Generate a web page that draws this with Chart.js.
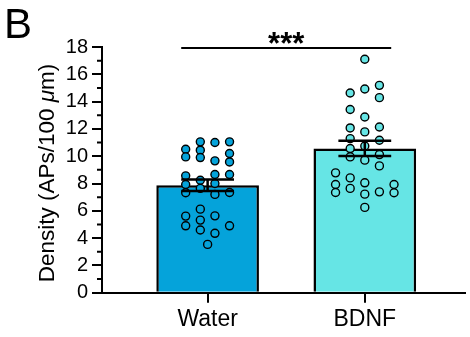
<!DOCTYPE html>
<html>
<head>
<meta charset="utf-8">
<script src="https://cdn.jsdelivr.net/npm/chart.js@4"></script>
<style>
  body { margin: 0; background: #fff; }
  canvas { display: block; }
</style>
</head>
<body>
<canvas id="densityChart" width="470" height="337"></canvas>
<script>
// data
const categories = ['Water', 'BDNF'];
const meanValues = [7.87, 10.57];
const semValues = [0.42, 0.56];

// dots per column, left to right
const waterColumns = [
  [10.51, 9.95, 8.56, 7.93, 7.32, 5.61, 4.90],
  [11.05, 10.44, 9.90, 8.24, 7.64, 6.12, 5.32, 4.59],
  [11.00, 9.66, 8.66, 8.00, 7.20, 5.63, 4.35],
  [11.05, 10.20, 9.58, 8.66, 7.34, 4.90]
];
const waterCentre = [3.54];
const bdnfColumns = [
  [8.78, 7.93, 7.34],
  [14.63, 13.42, 12.07, 11.29, 10.56, 9.95, 8.41, 7.64],
  [17.10, 14.92, 12.87, 11.78, 10.75, 9.71, 8.05, 7.22, 6.25],
  [15.19, 14.29, 12.14, 11.17, 10.12, 9.29, 7.39],
  [7.93, 7.32]
];
const sigLabel = '***';
const yTitle = ['Density (APs/100 ', 'μ', 'm)'];

const waterColor = '#05a3da';
const bdnfColor = '#66e5e5';
const FONT = '"Liberation Sans", Arial, Helvetica, sans-serif';
const colStep = 0.093;
const capHalf = 0.168;

function dots(columns, group) {
  const out = [];
  const n = columns.length;
  columns.forEach((col, k) => {
    col.forEach(v => out.push({ x: group + (k - (n - 1) / 2) * colStep, y: v }));
  });
  return out;
}

const waterDots = dots(waterColumns, 0).concat(waterCentre.map(v => ({ x: 0, y: v })));
const bdnfDots = dots(bdnfColumns, 1);

const extras = {
  id: 'extras',
  afterDatasetsDraw(chart) {
    const { ctx, scales: { x, y } } = chart;
    ctx.save();
    ctx.strokeStyle = '#000';
    ctx.lineWidth = 2.5;
    // mean +/- SEM
    meanValues.forEach((m, i) => {
      const s = semValues[i];
      const xl = x.getPixelForValue(i - capHalf);
      const xr = x.getPixelForValue(i + capHalf);
      const xc = x.getPixelForValue(i);
      const yt = y.getPixelForValue(m + s);
      const yb = y.getPixelForValue(m - s);
      ctx.beginPath();
      ctx.moveTo(xc, yt); ctx.lineTo(xc, yb);
      ctx.moveTo(xl, yt); ctx.lineTo(xr, yt);
      ctx.moveTo(xl, yb); ctx.lineTo(xr, yb);
      ctx.stroke();
    });
    // significance bar
    const sy = y.getPixelForValue(17.92);
    ctx.lineWidth = 2;
    ctx.beginPath();
    ctx.moveTo(x.getPixelForValue(-capHalf), sy);
    ctx.lineTo(x.getPixelForValue(1 + capHalf), sy);
    ctx.stroke();
    ctx.fillStyle = '#000';
    ctx.font = 'bold 31px ' + FONT;
    ctx.textAlign = 'center';
    ctx.textBaseline = 'alphabetic';
    ctx.fillText(sigLabel, x.getPixelForValue(0.5), sy + 6);
    ctx.restore();
  },
  afterDraw(chart) {
    const { ctx, scales: { y } } = chart;
    ctx.save();
    // minor ticks
    ctx.strokeStyle = '#000';
    ctx.lineWidth = 2;
    ctx.beginPath();
    for (let v = 1; v < 18; v += 2) {
      const py = y.getPixelForValue(v);
      ctx.moveTo(y.right - 5, py);
      ctx.lineTo(y.right, py);
    }
    ctx.stroke();
    // panel letter
    ctx.fillStyle = '#000';
    ctx.font = '42px ' + FONT;
    ctx.textAlign = 'left';
    ctx.textBaseline = 'alphabetic';
    ctx.fillText('B', 4, 38);
    // y title with italic mu
    const fonts = ['22.5px ' + FONT, 'italic 22.5px ' + FONT, '22.5px ' + FONT];
    let total = 0;
    yTitle.forEach((t, i) => { ctx.font = fonts[i]; total += ctx.measureText(t).width; });
    ctx.translate(54, 173);
    ctx.rotate(-Math.PI / 2);
    let px = -total / 2;
    yTitle.forEach((t, i) => {
      ctx.font = fonts[i];
      ctx.fillText(t, px, 0);
      px += ctx.measureText(t).width;
    });
    ctx.restore();
  }
};

const config = {
  type: 'bar',
  data: {
    datasets: [{
      type: 'scatter',
      data: waterDots,
      backgroundColor: waterColor,
      borderColor: '#000',
      borderWidth: 1.4,
      pointRadius: 4,
      order: 0
    }, {
      type: 'scatter',
      data: bdnfDots,
      backgroundColor: bdnfColor,
      borderColor: '#000',
      borderWidth: 1.4,
      pointRadius: 4,
      order: 0
    }, {
      type: 'bar',
      data: meanValues.map((m, i) => ({ x: i, y: m })),
      backgroundColor: [waterColor, bdnfColor],
      borderColor: '#000',
      borderWidth: 2.5,
      borderSkipped: 'start',
      barPercentage: 0.653,
      categoryPercentage: 1,
      order: 1
    }]
  },
  options: {
    responsive: false,
    animation: false,
    layout: { padding: { top: 47, right: 3, left: 0, bottom: 0 } },
    plugins: {
      legend: { display: false },
      tooltip: { enabled: false }
    },
    scales: {
      x: {
        type: 'linear',
        min: -0.672,
        max: 1.635,
        offset: false,
        afterBuildTicks: s => { s.ticks = categories.map((c, i) => ({ value: i })); },
        afterFit: s => { s.height = 44.3; },
        grid: { offset: false, drawOnChartArea: false, drawTicks: true, tickLength: 10, color: '#000', lineWidth: 2 },
        border: { color: '#000', width: 2 },
        ticks: {
          color: '#000',
          padding: 3,
          font: { family: FONT, size: 23 },
          callback: v => categories[v]
        }
      },
      y: {
        min: 0,
        max: 18,
        afterFit: s => { s.width = 102; },
        grid: { drawOnChartArea: false, drawTicks: true, tickLength: 10, color: '#000', lineWidth: 2 },
        border: { color: '#000', width: 2 },
        ticks: {
          stepSize: 2,
          color: '#000',
          padding: 4,
          font: { family: FONT, size: 20 }
        }
      }
    }
  },
  plugins: [extras]
};

const densityChart = new Chart(document.getElementById('densityChart').getContext('2d'), config);
</script>
</body>
</html>
